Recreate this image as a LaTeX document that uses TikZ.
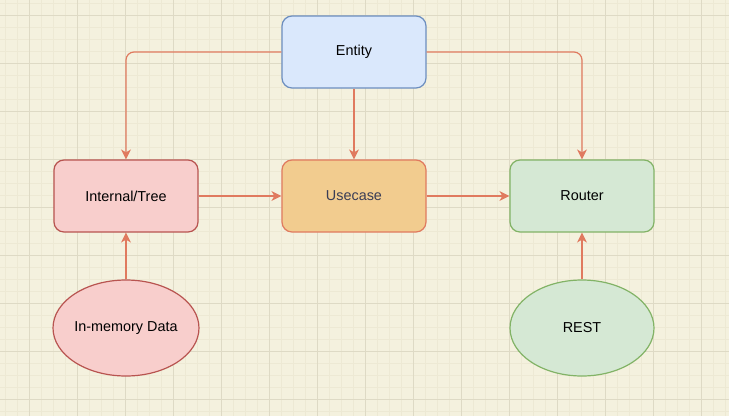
\documentclass[tikz,border=0pt]{standalone}
\usepackage{fontspec}
\setmainfont{Liberation Sans}
\usepackage{tikz}
\usetikzlibrary{arrows.meta,shapes.geometric}
\definecolor{paper}{HTML}{F4F1DE}
\definecolor{gridminor}{HTML}{EDE9D4}
\definecolor{gridmajor}{HTML}{DEDAC5}
\definecolor{linkred}{HTML}{E07A5F}
\definecolor{ucfill}{HTML}{F2CC8F}
\definecolor{uctext}{HTML}{393C56}
\definecolor{bluefill}{HTML}{DAE8FC}
\definecolor{bluedraw}{HTML}{6C8EBF}
\definecolor{redfill}{HTML}{F8CECC}
\definecolor{reddraw}{HTML}{B85450}
\definecolor{greenfill}{HTML}{D5E8D4}
\definecolor{greendraw}{HTML}{82B366}
\tikzset{>={Stealth[length=10pt,width=10pt,inset=3pt]}}
\tikzset{
  box/.style={draw,rounded corners=10pt,line width=1.2pt,minimum width=144pt,
    minimum height=72pt,inner sep=0pt,font=\fontsize{14.4}{17}\selectfont},
  store/.style={draw,ellipse,line width=1.2pt,minimum width=144pt,
    minimum height=96pt,inner sep=0pt,font=\fontsize{14.4}{17}\selectfont},
  link/.style={->,draw=linkred,line width=1.2pt,rounded corners=8pt}
}

\begin{document}
\begin{tikzpicture}[x=1pt,y=-1pt]
       \useasboundingbox (0,0) rectangle (729,416);
       \fill[paper] (0,0) rectangle (729,416);
       \foreach \gx in {5,17,...,725} \draw[gridminor,line width=1pt] (\gx,0) -- (\gx,416);
       \foreach \gy in {3,15,...,413} \draw[gridminor,line width=1pt] (0,\gy) -- (729,\gy);
       \foreach \gx in {29,77,...,725} \draw[gridmajor,line width=1pt] (\gx,0) -- (\gx,416);
       \foreach \gy in {15,63,...,413} \draw[gridmajor,line width=1pt] (0,\gy) -- (729,\gy);
       % boxes
       \node[box,fill=bluefill,draw=bluedraw] (entity) at (354,52) {Entity};
       \node[box,fill=redfill,draw=reddraw] (tree) at (126,196) {Internal/Tree};
       \node[box,fill=ucfill,draw=linkred,text=uctext] (usecase) at (354,196) {Usecase};
       \node[box,fill=greenfill,draw=greendraw] (router) at (582,196) {Router};
       \node[store,fill=redfill,draw=reddraw] (memdata) at (126,328) {In-memory Data};
       \node[store,fill=greenfill,draw=greendraw] (rest) at (582,328) {REST};
       % links
       \draw[link] (entity.west) -| (tree.north);
       \draw[link] (entity.east) -| (router.north);
       \draw[link] (entity.south) -- (usecase.north);
       \draw[link] (tree.east) -- (usecase.west);
       \draw[link] (usecase.east) -- (router.west);
       \draw[link] (memdata.north) -- (tree.south);
       \draw[link] (rest.north) -- (router.south);
\end{tikzpicture}
\end{document}
